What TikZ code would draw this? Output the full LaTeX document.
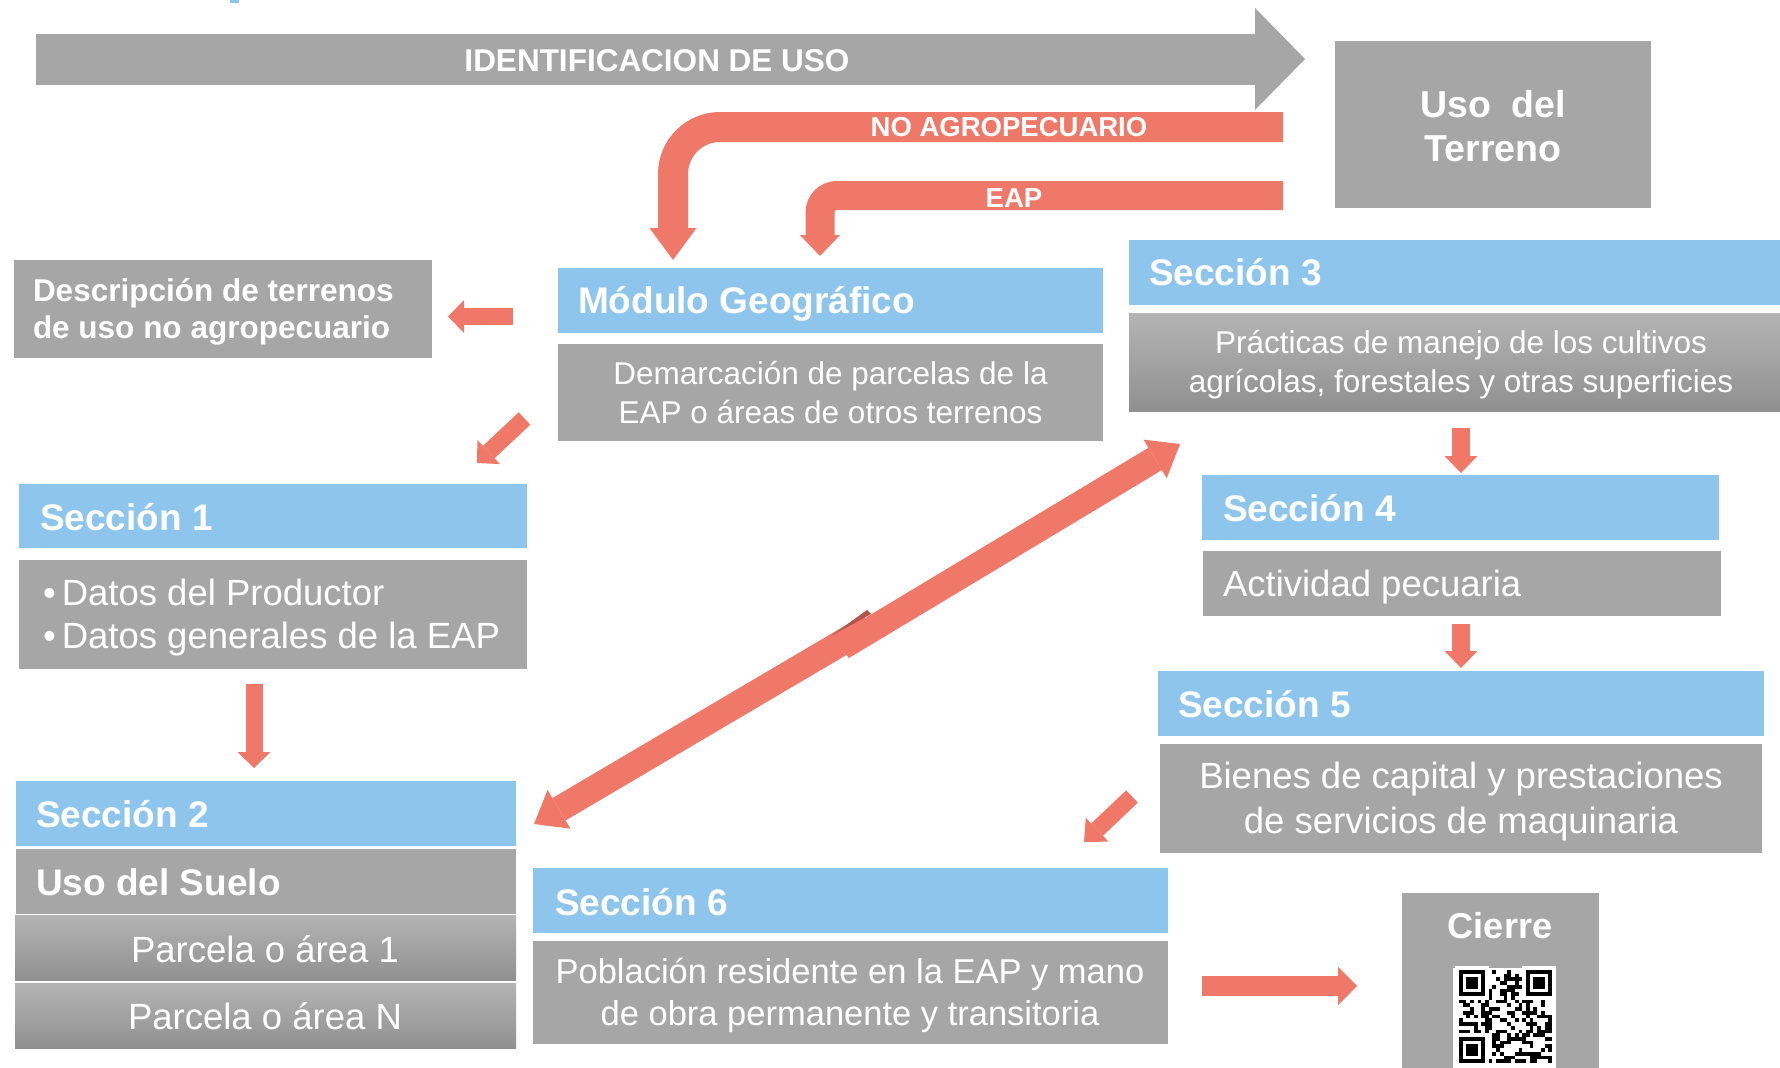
\documentclass[tikz,border=0pt]{standalone}
\usepackage{fontspec}
\setmainfont{Liberation Sans}
\usetikzlibrary{arrows.meta}
\definecolor{gr}{HTML}{A6A6A6}
\definecolor{bl}{HTML}{8EC5EC}
\definecolor{sal}{HTML}{F07868}
\definecolor{salD}{HTML}{B4554A}
\definecolor{grL}{HTML}{B4B4B4}
\definecolor{grD}{HTML}{909090}
\begin{document}
\begin{tikzpicture}[x=1pt,y=-1pt,
  box/.style={rectangle, inner sep=0pt, outer sep=0pt, anchor=north west, draw=none},
  gbox/.style={box, fill=gr},
  bbox/.style={box, fill=bl},
  shbox/.style={box, top color=grL, bottom color=grD},
  txt/.style={inner sep=0pt, outer sep=0pt, text=white},
  arr/.style n args={3}{draw=sal, line width=#1, -{Triangle[length=#2, width=#3, line width=0pt]}},
  hd/.style={txt, anchor=base west, font=\bfseries\fontsize{37}{44}\selectfont},
]
\fill[white] (0,0) rectangle (1780,1068);
\useasboundingbox (0,0) rectangle (1780,1068);

% tiny blue fragment at top
\fill[bl] (230,0) rectangle (239,3);

% ---------- boxes ----------
\node[gbox, minimum width=316pt, minimum height=167pt] (ut) at (1335,41) {};
\node[gbox, minimum width=418pt, minimum height=98pt] (desc) at (14,260) {};
\node[bbox, minimum width=545pt, minimum height=65pt] (modh) at (558,268) {};
\node[gbox, minimum width=545pt, minimum height=97pt] (modb) at (558,344) {};
\node[bbox, minimum width=508pt, minimum height=64pt] (s1h) at (19,484) {};
\node[gbox, minimum width=508pt, minimum height=109pt] (s1b) at (19,560) {};
\node[bbox, minimum width=500pt, minimum height=65pt] (s2h) at (16,781) {};
\node[gbox, minimum width=500pt, minimum height=65pt] (s2u) at (16,849) {};
\node[shbox, minimum width=501pt, minimum height=65pt] (p1) at (15,915) {};
\node[shbox, minimum width=501pt, minimum height=65pt] (pN) at (15,983) {};
\node[bbox, minimum width=651pt, minimum height=65pt] (s3h) at (1129,240) {};
\node[shbox, minimum width=651pt, minimum height=98pt] (s3b) at (1129,313) {};
\node[bbox, minimum width=517pt, minimum height=65pt] (s4h) at (1202,475) {};
\node[gbox, minimum width=518pt, minimum height=65pt] (s4b) at (1203,551) {};
\node[bbox, minimum width=606pt, minimum height=65pt] (s5h) at (1158,671) {};
\node[gbox, minimum width=602pt, minimum height=109pt] (s5b) at (1160,744) {};
\node[bbox, minimum width=635pt, minimum height=65pt] (s6h) at (533,868) {};
\node[gbox, minimum width=635pt, minimum height=103pt] (s6b) at (533,941) {};
\node[gbox, minimum width=197pt, minimum height=175pt] (ci) at (1402,893) {};
\node[box, fill=white, minimum width=103pt, minimum height=100pt] (qr) at (1453,968) {};

% ---------- QR code ----------
\pgfmathsetseed{4711}
\foreach \i in {0,...,24}{
  \foreach \j in {0,...,24}{
    \pgfmathtruncatemacro{\on}{rnd<0.5}
    \ifnum\on=1 \fill[black] ({1459+\i*3.72},{970+\j*3.72}) rectangle ++(3.72,3.72);\fi
  }
}
\foreach \cx/\cy in {0/0,18/0,0/18}{
  \fill[white] ({1459+(\cx-1)*3.72},{970+(\cy-1)*3.72}) rectangle ++(33.48,33.48);
  \fill[black] ({1459+\cx*3.72},{970+\cy*3.72}) rectangle ++(26.04,26.04);
  \fill[white] ({1459+(\cx+1)*3.72},{970+(\cy+1)*3.72}) rectangle ++(18.6,18.6);
  \fill[black] ({1459+(\cx+2)*3.72},{970+(\cy+2)*3.72}) rectangle ++(11.16,11.16);
}

% ---------- arrows ----------
\coordinate (idS) at (35.6,59); \coordinate (idE) at (1305,59);
\draw[draw=gr, line width=51pt, -{Triangle[length=50pt,width=102pt,line width=0pt]}] (idS) -- (idE);

\coordinate (naS) at (1283,127); \coordinate (naC) at (673,127); \coordinate (naE) at (673,260);
\draw[arr={30pt}{32pt}{47pt}, rounded corners=47pt] (naS) -- (naC) -- (naE);

\coordinate (eaS) at (1283,195.5); \coordinate (eaC) at (820,195.5); \coordinate (eaE) at (820,256);
\draw[arr={29pt}{21pt}{40pt}, rounded corners=17pt] (eaS) -- (eaC) -- (eaE);

\coordinate (a1s) at (513,316.5); \coordinate (a1e) at (448,316.5);
\draw[arr={17pt}{16pt}{33pt}] (a1s) -- (a1e);
\coordinate (a2s) at (524.5,418.5); \coordinate (a2e) at (477,463);
\draw[arr={17pt}{16pt}{33pt}] (a2s) -- (a2e);
\coordinate (a3s) at (254,684); \coordinate (a3e) at (254,768);
\draw[arr={17pt}{16pt}{33pt}] (a3s) -- (a3e);
\coordinate (a4s) at (1461,428); \coordinate (a4e) at (1461,473);
\draw[arr={18pt}{17pt}{33pt}] (a4s) -- (a4e);
\coordinate (a5s) at (1461,624); \coordinate (a5e) at (1461,668);
\draw[arr={18pt}{17pt}{33pt}] (a5s) -- (a5e);
\coordinate (a6s) at (1132,796.5); \coordinate (a6e) at (1084,842);
\draw[arr={17pt}{18pt}{33pt}] (a6s) -- (a6e);
\coordinate (a7s) at (1202,986); \coordinate (a7e) at (1357,986);
\draw[arr={20pt}{19pt}{38pt}] (a7s) -- (a7e);

\coordinate (l1s) at (870,626); \coordinate (l1e) at (534,824);
\coordinate (l2s) at (842,647); \coordinate (l2e) at (1180,444);
\draw[arr={26pt}{29pt}{45pt}] (l1s) -- (l1e);
\draw[arr={26pt}{29pt}{45pt}] (l2s) -- (l2e);
\fill[salD] (831,636) -- (867,610) -- (871,614) -- cycle;

% ---------- texts ----------
\node[txt, font=\bfseries\fontsize{31.5}{37}\selectfont, anchor=base] (tid) at (657,71) {IDENTIFICACION DE USO};
\node[txt, font=\bfseries\fontsize{27.5}{33}\selectfont, anchor=base] (tna) at (1009,136) {NO AGROPECUARIO};
\node[txt, font=\bfseries\fontsize{27.5}{33}\selectfont, anchor=base] (tea) at (1014,207) {EAP};
\node[txt, font=\bfseries\fontsize{37.5}{44}\selectfont, align=center, anchor=base] (tut) at (1493,161) {Uso\ \ del\\Terreno};
\node[txt, font=\bfseries\fontsize{31.5}{37}\selectfont, align=left, anchor=base west] (tdesc) at (33,338) {Descripción de terrenos\\de uso no agropecuario};
\node[hd] (tmodh) at (578,313) {Módulo Geográfico};
\node[txt, font=\fontsize{31.5}{39}\selectfont, align=center, anchor=base] (tmodb) at (830.5,423) {Demarcación de parcelas de la\\EAP o áreas de otros terrenos};
\node[hd] (ts1h) at (40,530) {Sección 1};
\node[txt, font=\fontsize{36.5}{43}\selectfont, align=left, anchor=base west] (ts1b) at (43,648) {•\hspace{6pt}Datos del Productor\\•\hspace{6pt}Datos generales de la EAP};
\node[hd] (ts2h) at (36,827) {Sección 2};
\node[hd] (ts2u) at (36,895) {Uso del Suelo};
\node[txt, font=\fontsize{36.5}{44}\selectfont, anchor=base] (tp1) at (265,962) {Parcela o área 1};
\node[txt, font=\fontsize{36.5}{44}\selectfont, anchor=base] (tpN) at (265,1029) {Parcela o área N};
\node[hd] (ts3h) at (1149,285) {Sección 3};
\node[txt, font=\fontsize{31.5}{39}\selectfont, align=center, anchor=base] (ts3b) at (1461,392) {Prácticas de manejo de los cultivos\\agrícolas, forestales y otras superficies};
\node[hd] (ts4h) at (1223,521) {Sección 4};
\node[txt, font=\fontsize{36.5}{44}\selectfont, anchor=base west] (ts4b) at (1223,596) {Actividad pecuaria};
\node[hd] (ts5h) at (1178,717) {Sección 5};
\node[txt, font=\fontsize{36.5}{45}\selectfont, align=center, anchor=base] (ts5b) at (1461,833) {Bienes de capital y prestaciones\\de servicios de maquinaria};
\node[hd] (ts6h) at (555,915) {Sección 6};
\node[txt, font=\fontsize{34.5}{42}\selectfont, align=center, anchor=base] (ts6b) at (850,1025) {Población residente en la EAP y mano\\de obra permanente y transitoria};
\node[txt, font=\bfseries\fontsize{36}{43}\selectfont, anchor=base] (tci) at (1500,938) {Cierre};
\end{tikzpicture}
\end{document}
